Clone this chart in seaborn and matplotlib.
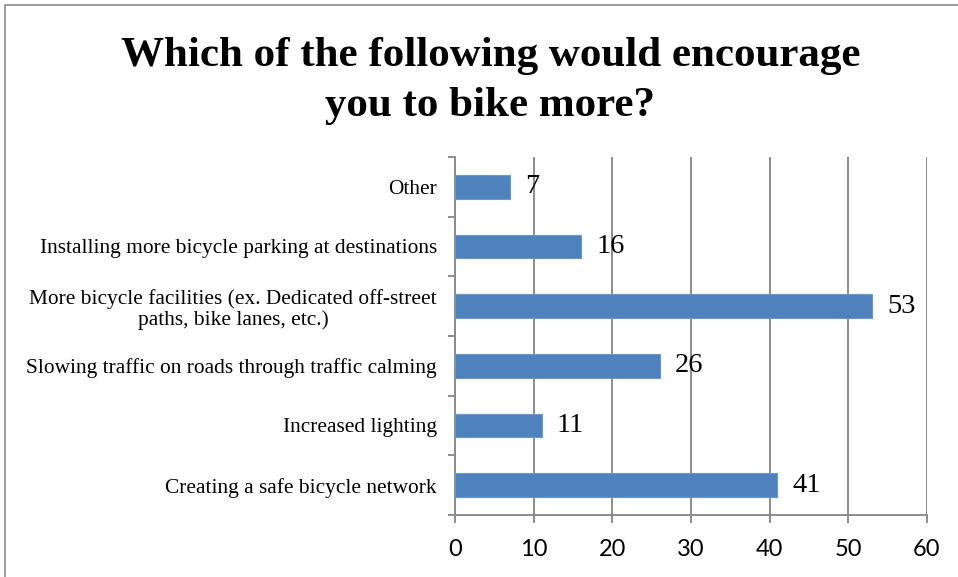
import matplotlib
matplotlib.use("Agg")
import matplotlib.pyplot as plt
from matplotlib.patches import Rectangle
from matplotlib.ticker import FixedLocator
import seaborn as sns
import pandas as pd

# Survey responses, listed top to bottom as they appear on the chart
categories = [
    "Other",
    "Installing more bicycle parking at destinations",
    "More bicycle facilities (ex. Dedicated off-street\npaths, bike lanes, etc.)",
    "Slowing traffic on roads through traffic calming",
    "Increased lighting",
    "Creating a safe bicycle network",
]
responses = [7, 16, 53, 26, 11, 41]
x_ticks = [0, 10, 20, 30, 40, 50, 60]

df = pd.DataFrame({"option": categories, "count": responses})

sns.set_theme(style="white")
serif = ["Liberation Serif", "DejaVu Serif"]
sans = ["Lato", "DejaVu Sans"]

fig = plt.figure(figsize=(9.58, 5.77), dpi=100)
ax = fig.add_axes([0.475, 0.1075, 0.4925, 0.6205])

sns.barplot(data=df, x="count", y="option", order=categories, orient="h",
            color="#4F81BD", saturation=1, width=0.4, ax=ax,
            edgecolor="#6C95C8", linewidth=0.8, zorder=3)

grid_c = "#8C8C8C"
ax.set_xlim(0, 60)
ax.set_ylim(5.5, -0.5)
ax.set_xticks(x_ticks)
ax.set_xticklabels([str(t) for t in x_ticks], fontfamily=sans, fontsize=17,
                   color="black")
ax.xaxis.grid(True, color=grid_c, linewidth=1.4, zorder=0)
ax.yaxis.grid(False)
ax.set_xlabel("")
ax.set_ylabel("")

# Category labels sit between ticks placed on the category boundaries
ax.set_yticks(range(len(categories)))
ax.set_yticklabels(categories, fontfamily=serif, fontsize=15.4, color="black",
                   linespacing=1.1, ha="right", multialignment="center")
ax.yaxis.set_minor_locator(FixedLocator([i - 0.5 for i in range(len(categories) + 1)]))
ax.tick_params(axis="y", which="major", length=0, pad=13)
ax.tick_params(axis="y", which="minor", length=5, width=1.4, color=grid_c, left=True)
ax.tick_params(axis="x", which="major", length=6, width=1.4, color=grid_c,
               bottom=True, pad=11, labelcolor="black")

for side in ["top", "right"]:
    ax.spines[side].set_visible(False)
for side in ["left", "bottom"]:
    ax.spines[side].set_color(grid_c)
    ax.spines[side].set_linewidth(1.4)

# Value labels at the end of each bar
for i, v in enumerate(responses):
    ax.annotate(str(v), xy=(v, i), xytext=(11, 0), textcoords="offset points",
                ha="left", va="center", fontfamily=serif, fontsize=20.5,
                color="black", zorder=4)

fig.text(0.512, 0.859, "Which of the following would encourage\nyou to bike more?",
         ha="center", va="center", fontfamily=serif, fontweight="bold",
         fontsize=31, linespacing=1.42, color="black")

# Chart frame
fig.patches.append(Rectangle((0.0055, -0.05), 1.1, 1.0413, transform=fig.transFigure,
                             fill=False, edgecolor="#8C8C8C", linewidth=1.2))

fig.savefig("out.png", dpi=100)
